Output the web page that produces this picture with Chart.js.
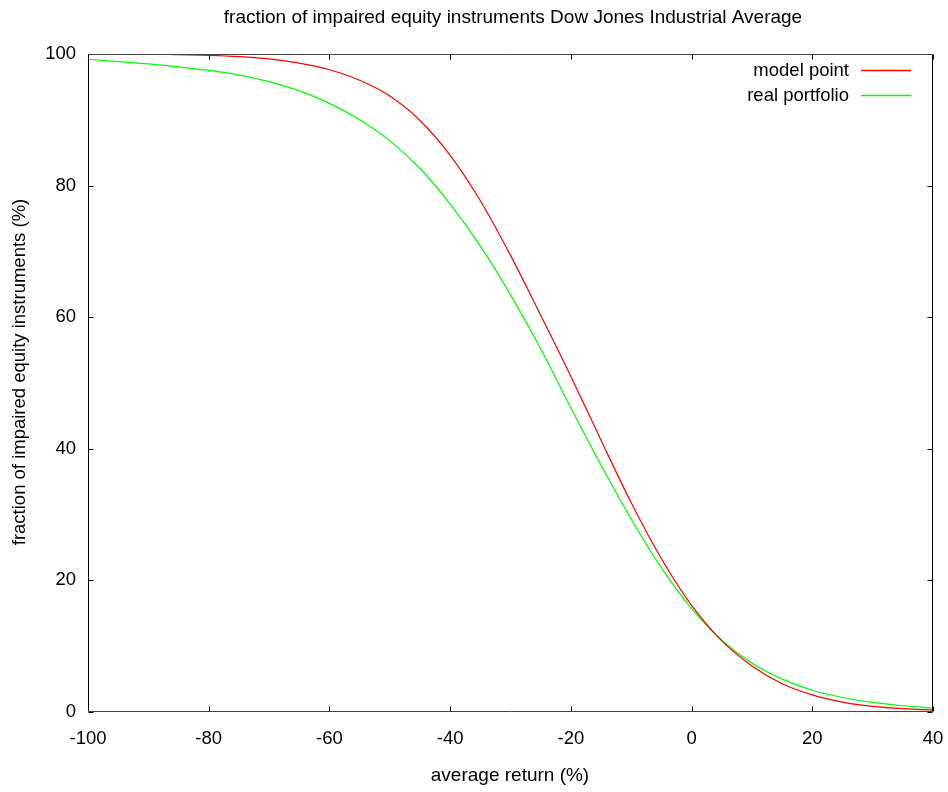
<!DOCTYPE html>
<html>
<head>
<meta charset="utf-8">
<script src="https://cdn.jsdelivr.net/npm/chart.js@4"></script>
<style>
  html, body { margin: 0; padding: 0; background: #fff; }
  #wrap { width: 948px; height: 792px; }
</style>
</head>
<body>
<div id="wrap"><canvas id="myChart" width="948" height="792"></canvas></div>
<script>
// average return (%)
const returns = [-100, -95, -90, -85, -80, -75, -70, -65, -60, -55, -50, -45, -40, -35, -30,
                 -25, -20, -15, -10, -5, 0, 5, 10, 15, 20, 25, 30, 35, 40];
// fraction of impaired equity instruments (%)
const modelPoint = [100.0, 100.0, 100.0, 99.9, 99.8, 99.6, 99.25, 98.6, 97.6, 96.0, 93.6, 89.9, 84.6, 77.7, 69.4,
                    60.3, 51.0, 41.3, 31.8, 23.3, 16.2, 10.8, 7.0, 4.3, 2.6, 1.5, 0.85, 0.5, 0.3];
const realPortfolio = [99.2, 98.85, 98.5, 98.05, 97.5, 96.8, 95.8, 94.4, 92.5, 90.0, 86.8, 82.6, 77.2, 70.8, 63.4,
                       55.2, 46.2, 37.5, 29.3, 21.9, 15.7, 10.9, 7.4, 5.0, 3.3, 2.2, 1.45, 0.95, 0.6];
const xTicks = [-100, -80, -60, -40, -20, 0, 20, 40];
const yTicks = [0, 20, 40, 60, 80, 100];

const FONT = "'Liberation Sans', Arial, sans-serif";

function points(ys) {
  return returns.map((x, i) => ({ x: x, y: ys[i] }));
}

// gnuplot style frame, inward ticks, titles and legend
const gnuplotFrame = {
  id: 'gnuplotFrame',
  afterDraw(chart) {
    const ctx = chart.ctx;
    const a = chart.chartArea;
    const xs = chart.scales.x, ys = chart.scales.y;
    const L = Math.round(a.left) + 0.5, R = Math.round(a.right) - 0.5;
    const T = Math.round(a.top) + 0.5, B = Math.round(a.bottom) - 0.5;
    ctx.save();
    ctx.lineWidth = 1;
    ctx.strokeStyle = '#000';
    ctx.beginPath();
    ctx.moveTo(L, T); ctx.lineTo(L, B);
    ctx.moveTo(R, T); ctx.lineTo(R, B);
    xTicks.forEach(v => {
      const px = Math.round(xs.getPixelForValue(v)) + 0.5;
      ctx.moveTo(px, B); ctx.lineTo(px, B - 5);
      ctx.moveTo(px, T); ctx.lineTo(px, T + 5);
    });
    yTicks.forEach(v => {
      const py = Math.round(ys.getPixelForValue(v)) + 0.5;
      ctx.moveTo(L, py); ctx.lineTo(L + 5, py);
      ctx.moveTo(R, py); ctx.lineTo(R - 5, py);
    });
    ctx.stroke();
    ctx.strokeStyle = '#444';
    ctx.beginPath();
    ctx.moveTo(L, T); ctx.lineTo(R, T);
    ctx.moveTo(L, B); ctx.lineTo(R, B);
    ctx.stroke();

    ctx.fillStyle = '#000';
    ctx.textAlign = 'center';
    ctx.textBaseline = 'middle';
    ctx.font = '19px ' + FONT;
    ctx.fillText('fraction of impaired equity instruments Dow Jones Industrial Average', 513, 18);
    ctx.fillText('average return (%)', 510, 776);

    ctx.save();
    ctx.translate(20, 372);
    ctx.rotate(-Math.PI / 2);
    ctx.font = '18.5px ' + FONT;
    ctx.fillText('fraction of impaired equity instruments (%)', 0, 0);
    ctx.restore();

    // legend, text right of the sample line
    ctx.font = '18.5px ' + FONT;
    ctx.textAlign = 'right';
    chart.data.datasets.forEach((ds, i) => {
      const y = 71 + i * 25;
      ctx.fillText(ds.label, 849, y);
      ctx.strokeStyle = ds.borderColor;
      ctx.lineWidth = 1.5;
      ctx.beginPath();
      ctx.moveTo(861, y - 0.5); ctx.lineTo(911, y - 0.5);
      ctx.stroke();
    });
    ctx.restore();
  }
};

new Chart("myChart", {
  type: "line",
  data: {
    datasets: [{
      label: "model point",
      data: points(modelPoint),
      borderColor: "#ff0000",
      borderWidth: 1.2,
      pointRadius: 0,
      cubicInterpolationMode: "monotone",
      fill: false
    }, {
      label: "real portfolio",
      data: points(realPortfolio),
      borderColor: "#00ff00",
      borderWidth: 1.2,
      pointRadius: 0,
      cubicInterpolationMode: "monotone",
      fill: false
    }]
  },
  options: {
    responsive: false,
    animation: false,
    events: [],
    layout: { padding: { top: 54, right: 15, left: 0, bottom: 0 } },
    plugins: {
      legend: { display: false },
      title: { display: false },
      tooltip: { enabled: false }
    },
    scales: {
      x: {
        type: "linear",
        min: -100,
        max: 40,
        afterFit: s => { s.height = 80; s.paddingLeft = 0; s.paddingRight = 0; },
        afterBuildTicks: s => { s.ticks = xTicks.map(v => ({ value: v })); },
        grid: { display: false, drawTicks: false },
        border: { display: false },
        ticks: { color: "#000", font: { family: FONT, size: 18.5 }, padding: 16, maxRotation: 0 }
      },
      y: {
        min: 0,
        max: 100,
        afterFit: s => { s.width = 88; s.paddingTop = 0; s.paddingBottom = 0; },
        afterBuildTicks: s => { s.ticks = yTicks.map(v => ({ value: v })); },
        grid: { display: false, drawTicks: false },
        border: { display: false },
        ticks: { color: "#000", font: { family: FONT, size: 18.5 }, padding: 12 }
      }
    }
  },
  plugins: [gnuplotFrame]
});
</script>
</body>
</html>
